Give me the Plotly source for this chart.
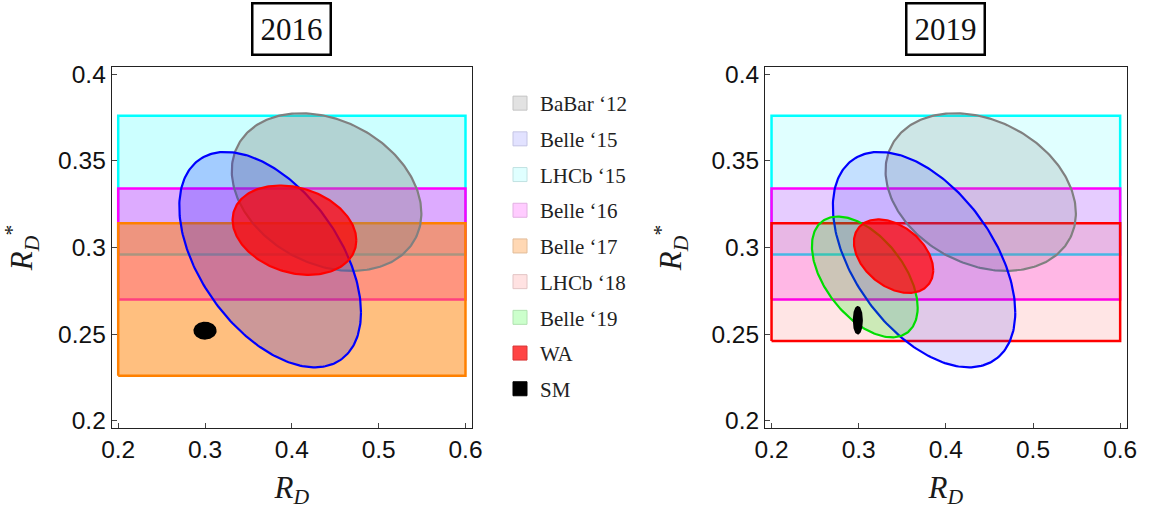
import numpy as np
import plotly.graph_objects as go

# R(D*)-only measurements: central value and 1-sigma error (horizontal bands)
band_labels = ["LHCb \u201815", "Belle \u201816", "Belle \u201817", "LHCb \u201818"]
band_rdst = [0.336, 0.302, 0.270, 0.280]
band_err = [0.040, 0.032, 0.044, 0.034]

# Joint R(D), R(D*) results: central values, errors and correlation (68% CL ellipses)
ell_labels = ["BaBar \u201812", "Belle \u201815", "Belle \u201819", "WA", "WA", "SM", "SM"]
ell_rd = [0.440, 0.375, 0.307, 0.403, 0.340, 0.300, 0.299]
ell_rd_err = [0.072, 0.069, 0.040, 0.047, 0.030, 0.008, 0.003]
ell_rdst = [0.332, 0.293, 0.283, 0.310, 0.295, 0.252, 0.258]
ell_rdst_err = [0.030, 0.041, 0.023, 0.017, 0.014, 0.003, 0.005]
ell_rho = [-0.27, -0.49, -0.51, -0.23, -0.38, 0.0, 0.0]

# Which results enter each panel
panel_titles = ["2016", "2019"]
panel_bands = [[0, 1, 2], [0, 1, 3]]
panel_ellipses = [[0, 1, 3, 5], [0, 1, 2, 4, 6]]

# Legend entries
legend_labels = ["BaBar \u201812", "Belle \u201815", "LHCb \u201815", "Belle \u201816",
                 "Belle \u201817", "LHCb \u201818", "Belle \u201819", "WA", "SM"]

# ---- styling ----
band_line = ["#00ffff", "#ff00ff", "#ff8000", "#ff0000"]
band_rgb = ["0,255,255", "255,0,255", "255,128,0", "255,0,0"]
band_alpha = [{0: 0.20, 1: 0.33, 2: 0.50}, {0: 0.12, 1: 0.20, 3: 0.10}]

ell_line = ["#808080", "#0000ff", "#00dd00", "#ff0000", "#ff0000", "#000000", "#000000"]
ell_rgb = ["128,128,128", "0,0,255", "0,255,0", "255,0,0", "255,0,0", "0,0,0", "0,0,0"]
ell_alpha = [{0: 0.35, 1: 0.20, 3: 0.72, 5: 1.0}, {0: 0.20, 1: 0.12, 2: 0.20, 4: 0.72, 6: 1.0}]

legend_fill = ["#e2e2e2", "#e2e2ff", "#e0ffff", "#ffccff", "#ffd8b4",
               "#ffe2e2", "#ccffcc", "#ff4444", "#000000"]
legend_edge = ["#c4c4c4", "#c4c4e4", "#c0e2e2", "#e2b0e2", "#e2bc98",
               "#e2c4c4", "#b0e2b0", "#d83434", "#000000"]

XR = [0.1925, 0.6075]
YR = [0.1958, 0.4042]
X_DOM = [[111.7 / 1157, 472 / 1157], [765 / 1157, 1126.7 / 1157]]
Y_DOM = [1 - 428 / 510, 1 - 67 / 510]
CHI2_68 = 2.30  # 2D, 68% CL

SERIF = "Liberation Serif"
SANS = "Liberation Sans"


def ellipse(cx, sx, cy, sy, rho, n=240):
    t = np.linspace(0, 2 * np.pi, n)
    k = np.sqrt(CHI2_68)
    x = cx + k * sx * np.cos(t)
    y = cy + k * sy * (rho * np.cos(t) + np.sqrt(1 - rho ** 2) * np.sin(t))
    return x, y


fig = go.Figure()

for p in range(2):
    xa = "x" if p == 0 else "x2"
    ya = "y" if p == 0 else "y2"
    for b in panel_bands[p]:
        lo = band_rdst[b] - band_err[b]
        hi = band_rdst[b] + band_err[b]
        fig.add_trace(go.Scatter(
            x=[0.2, 0.6, 0.6, 0.2, 0.2], y=[lo, lo, hi, hi, lo],
            mode="lines", fill="toself",
            fillcolor=f"rgba({band_rgb[b]},{band_alpha[p][b]})",
            line=dict(color=band_line[b], width=2.5),
            name=band_labels[b], showlegend=False, hoverinfo="name",
            xaxis=xa, yaxis=ya))
    for e in panel_ellipses[p]:
        x, y = ellipse(ell_rd[e], ell_rd_err[e], ell_rdst[e], ell_rdst_err[e], ell_rho[e])
        fig.add_trace(go.Scatter(
            x=x, y=y, mode="lines", fill="toself",
            fillcolor=f"rgba({ell_rgb[e]},{ell_alpha[p][e]})",
            line=dict(color=ell_line[e], width=2.2),
            name=ell_labels[e], showlegend=False, hoverinfo="name",
            xaxis=xa, yaxis=ya))

# legend-only swatches
for i, lab in enumerate(legend_labels):
    fig.add_trace(go.Scatter(
        x=[None], y=[None], mode="markers", name=lab,
        legendgroup=f"g{i}",
        marker=dict(symbol="square", size=14, color=legend_fill[i],
                    line=dict(color=legend_edge[i], width=1)),
        xaxis="x", yaxis="y"))

axis_common = dict(
    showline=True, mirror=True, linecolor="#222222", linewidth=1,
    ticks="inside", ticklen=5, tickcolor="#444444", tickwidth=1,
    showgrid=False, zeroline=False, automargin=False,
    tickfont=dict(family=SANS, size=24.5, color="#111111"),
)

xtick = [0.2, 0.3, 0.4, 0.5, 0.6]
ytick = [0.2, 0.25, 0.3, 0.35, 0.4]
xtitle = dict(text="<i>R</i><sub><i>D</i></sub>",
              font=dict(family=SERIF, size=31, color="#1a1a1a"), standoff=13)
ytitle = dict(text="<i>R</i><sub><i>D</i></sub><sup>*</sup>",
              font=dict(family=SERIF, size=31, color="#1a1a1a"), standoff=20)

layout = dict(
    width=1157, height=510, autosize=False,
    margin=dict(l=0, r=0, t=0, b=0, pad=0, autoexpand=False),
    paper_bgcolor="white", plot_bgcolor="white",
    showlegend=True,
    legend=dict(x=500 / 1157, xanchor="left", y=1 - 83 / 510, yanchor="top",
                font=dict(family=SERIF, size=21, color="#222222"),
                traceorder="grouped", tracegroupgap=5.4,
                bgcolor="rgba(0,0,0,0)", borderwidth=0),
    xaxis=dict(domain=X_DOM[0], range=XR, anchor="y", tickvals=xtick,
               title=xtitle, **axis_common),
    yaxis=dict(domain=Y_DOM, range=YR, anchor="x", tickvals=ytick,
               title=ytitle, **axis_common),
    xaxis2=dict(domain=X_DOM[1], range=XR, anchor="y2", tickvals=xtick,
                title=xtitle, **axis_common),
    yaxis2=dict(domain=Y_DOM, range=YR, anchor="x2", tickvals=ytick,
                title=ytitle, **axis_common),
)
fig.update_layout(**layout)

# boxed panel titles
for p in range(2):
    cx = (X_DOM[p][0] + X_DOM[p][1]) / 2
    fig.add_annotation(
        text=panel_titles[p], xref="paper", yref="paper",
        x=cx, y=1 - 2 / 510, xanchor="center", yanchor="top",
        showarrow=False, font=dict(family=SERIF, size=31, color="#111111"),
        bordercolor="#000000", borderwidth=2.5, borderpad=7, bgcolor="white")

fig.write_html("out.html")
